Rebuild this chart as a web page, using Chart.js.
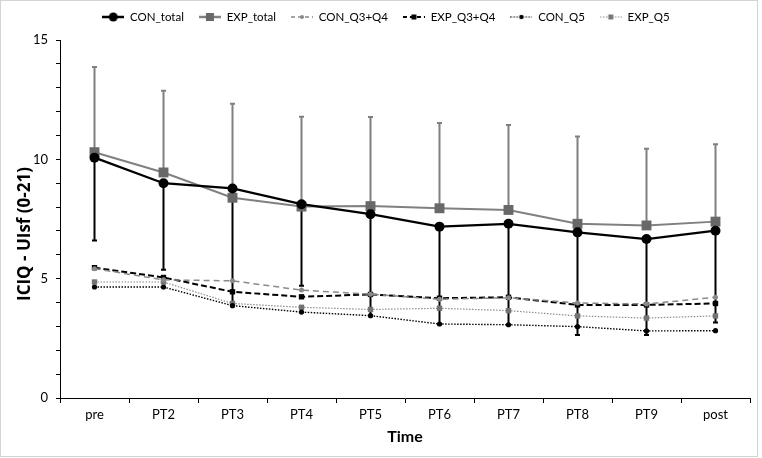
<!DOCTYPE html>
<html>
<head>
<meta charset="utf-8">
<script src="https://cdn.jsdelivr.net/npm/chart.js@4.4.0/dist/chart.umd.min.js"></script>
<style>
  html, body { margin: 0; padding: 0; background: #fff; }
  .frame { width: 758px; height: 457px; box-sizing: border-box; border: 1px solid #d4d4d4; position: relative; }
  .frame canvas { position: absolute; left: 0; top: 0; }
</style>
</head>
<body>
<div class="frame"><canvas id="chart" width="756" height="455"></canvas></div>
<script>
// values
const timepoints = ['pre', 'PT2', 'PT3', 'PT4', 'PT5', 'PT6', 'PT7', 'PT8', 'PT9', 'post'];
const conTotal   = [10.07, 9.00, 8.78, 8.12, 7.70, 7.18, 7.30, 6.94, 6.66, 7.01];
const conTotalSD = [3.47, 3.63, 4.88, 3.42, 4.25, 4.08, 4.23, 4.30, 4.02, 3.85];
const expTotal   = [10.30, 9.45, 8.39, 8.02, 8.04, 7.95, 7.88, 7.30, 7.23, 7.39];
const expTotalSD = [3.57, 3.42, 3.94, 3.76, 3.73, 3.57, 3.56, 3.66, 3.21, 3.24];
const conQ34     = [5.42, 4.95, 4.91, 4.52, 4.35, 4.14, 4.20, 3.98, 3.94, 4.22];
const expQ34     = [5.46, 5.05, 4.45, 4.24, 4.34, 4.18, 4.22, 3.90, 3.90, 3.96];
const conQ5      = [4.65, 4.65, 3.87, 3.60, 3.45, 3.10, 3.07, 2.99, 2.81, 2.82];
const expQ5      = [4.86, 4.86, 3.96, 3.80, 3.71, 3.76, 3.66, 3.44, 3.35, 3.44];
const yTicksLabelled = [0, 5, 10, 15];

const FONT = "Lato, 'Open Sans', sans-serif";
const ICON_W = 22;

// small line + marker picture for each legend entry
function makeIcon(line, fill, width, dash, marker, size) {
    const c = document.createElement('canvas');
    c.width = ICON_W;
    c.height = 12;
    const g = c.getContext('2d');
    g.strokeStyle = line;
    g.lineWidth = width;
    g.setLineDash(dash);
    g.beginPath();
    g.moveTo(0, 6);
    g.lineTo(ICON_W, 6);
    g.stroke();
    g.fillStyle = fill;
    if (marker === 'circle') {
        g.beginPath();
        g.arc(ICON_W / 2, 6, size, 0, Math.PI * 2);
        g.fill();
    } else {
        g.fillRect(ICON_W / 2 - size, 6 - size, size * 2, size * 2);
    }
    return c;
}

const legendIcons = [
    makeIcon('#000', '#000', 2.5, [], 'circle', 4.5),
    makeIcon('#808080', '#686868', 2.5, [], 'rect', 4),
    makeIcon('#8a8a8a', '#8a8a8a', 1.5, [4, 3], 'circle', 2),
    makeIcon('#000', '#000', 2, [4, 3], 'rect', 2.5),
    makeIcon('#000', '#000', 1.2, [1.5, 1.5], 'circle', 2.2),
    makeIcon('#8c8c8c', '#777', 1.2, [1.5, 1.5], 'rect', 2.5),
];

// one-sided error bars (CON down, EXP up)
const errorBars = {
    id: 'errorBars',
    beforeDatasetsDraw(chart) {
        const { ctx, scales: { x, y } } = chart;
        chart.data.datasets.forEach((ds) => {
            if (!ds.errorBars) return;
            ctx.save();
            ctx.strokeStyle = ds.errorColor;
            ctx.lineWidth = 2;
            ds.data.forEach((v, i) => {
                const px = x.getPixelForValue(i);
                const y0 = y.getPixelForValue(v);
                const y1 = y.getPixelForValue(v + ds.errorDir * ds.errorBars[i]);
                ctx.beginPath();
                ctx.moveTo(px, y0);
                ctx.lineTo(px, y1);
                ctx.moveTo(px - 2.5, y1);
                ctx.lineTo(px + 2.5, y1);
                ctx.stroke();
            });
            ctx.restore();
        });
    },
};

// y axis title, placed where the reference has it
const yTitle = {
    id: 'yTitle',
    afterDraw(chart) {
        const { ctx } = chart;
        ctx.save();
        ctx.translate(24, 233);
        ctx.rotate(-Math.PI / 2);
        ctx.font = `bold 17px 'Open Sans', sans-serif`;
        ctx.fillStyle = '#000';
        ctx.textAlign = 'center';
        ctx.textBaseline = 'middle';
        ctx.fillText('ICIQ - UIsf (0-21)', 0, 0);
        ctx.restore();
    },
};

const ctx = document.getElementById('chart').getContext('2d');
new Chart(ctx, {
    type: 'line',
    data: {
        labels: timepoints,
        datasets: [
            {
                label: 'CON_total',
                data: conTotal,
                borderColor: '#000',
                backgroundColor: '#000',
                borderWidth: 2.25,
                pointStyle: 'circle',
                pointRadius: 5,
                pointBorderWidth: 0,
                errorBars: conTotalSD,
                errorDir: -1,
                errorColor: '#000',
            },
            {
                label: 'EXP_total',
                data: expTotal,
                borderColor: '#808080',
                backgroundColor: '#686868',
                borderWidth: 2,
                pointStyle: 'rect',
                pointRadius: 7,
                pointBorderWidth: 0,
                errorBars: expTotalSD,
                errorDir: 1,
                errorColor: '#808080',
            },
            {
                label: 'CON_Q3+Q4',
                data: conQ34,
                borderColor: '#8a8a8a',
                backgroundColor: '#8a8a8a',
                borderWidth: 1.5,
                borderDash: [6, 4],
                pointStyle: 'circle',
                pointRadius: 2.5,
                pointBorderWidth: 0,
            },
            {
                label: 'EXP_Q3+Q4',
                data: expQ34,
                borderColor: '#000',
                backgroundColor: '#000',
                borderWidth: 2,
                borderDash: [6, 3],
                pointStyle: 'rect',
                pointRadius: 3.8,
                pointBorderWidth: 0,
            },
            {
                label: 'CON_Q5',
                data: conQ5,
                borderColor: '#000',
                backgroundColor: '#000',
                borderWidth: 1.4,
                borderDash: [1.5, 1.5],
                pointStyle: 'circle',
                pointRadius: 2.6,
                pointBorderWidth: 0,
            },
            {
                label: 'EXP_Q5',
                data: expQ5,
                borderColor: '#8c8c8c',
                backgroundColor: '#737373',
                borderWidth: 1.2,
                borderDash: [1.5, 1.5],
                pointStyle: 'rect',
                pointRadius: 3.8,
                pointBorderWidth: 0,
            },
        ],
    },
    options: {
        responsive: false,
        animation: false,
        layout: { padding: { top: -4.75, right: 6, bottom: 0, left: 20 } },
        plugins: {
            tooltip: { enabled: false },
            // empty title only used as a gap between legend and plot
            title: {
                display: true,
                text: '',
                padding: 0,
                font: { size: 7.25, lineHeight: 1 },
            },
            legend: {
                position: 'top',
                weight: 3000,
                labels: {
                    usePointStyle: true,
                    pointStyleWidth: ICON_W,
                    padding: 15,
                    color: '#000',
                    font: { size: 11.5, family: FONT },
                    generateLabels: (chart) => chart.data.datasets.map((ds, i) => ({
                        text: ds.label,
                        pointStyle: legendIcons[i],
                        datasetIndex: i,
                        fontColor: '#000',
                        fillStyle: 'transparent',
                        strokeStyle: 'transparent',
                        lineWidth: 0,
                        hidden: false,
                    })),
                },
            },
        },
        scales: {
            x: {
                offset: true,
                grid: {
                    offset: true,
                    drawOnChartArea: false,
                    tickLength: 5,
                    color: '#000',
                },
                border: { color: '#000', width: 1 },
                ticks: {
                    padding: 4,
                    color: '#000',
                    font: { size: 13, family: FONT },
                },
                title: {
                    display: true,
                    text: 'Time',
                    color: '#000',
                    font: { size: 16, weight: 'bold', family: FONT },
                    padding: { top: 0, bottom: 10 },
                },
                afterFit: (scale) => { scale.height = 58; },
            },
            y: {
                min: 0,
                max: 15,
                grid: {
                    drawOnChartArea: false,
                    tickLength: 4,
                    color: '#000',
                },
                border: { color: '#000', width: 1 },
                ticks: {
                    stepSize: 1,
                    padding: 8,
                    color: '#000',
                    font: { size: 13, family: FONT },
                    callback: (value) => (yTicksLabelled.includes(value) ? value : ''),
                },
                afterFit: (scale) => { scale.width = 39; },
            },
        },
    },
    plugins: [errorBars, yTitle],
});
</script>
</body>
</html>
